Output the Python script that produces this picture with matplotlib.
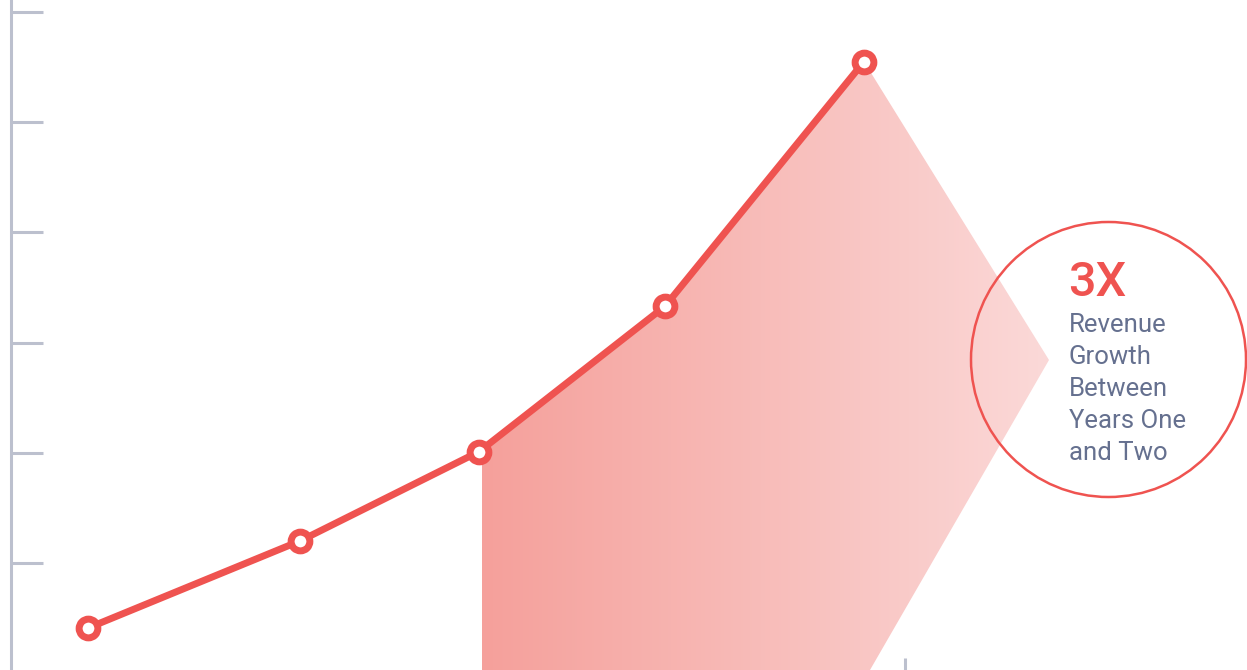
import matplotlib

matplotlib.use("Agg")

import matplotlib.pyplot as plt
import numpy as np
from matplotlib.colors import LinearSegmentedColormap
from matplotlib.patches import Circle, Polygon

# data: x in canvas-ish units, y in tick units (1 tick = 1 step)
x_pos = [88, 300, 479, 665, 864]
values = [0.41, 1.20, 2.01, 3.33, 5.55]
y_ticks = [1, 2, 3, 4, 5, 6]

headline = "3X"
caption = ["Revenue", "Growth", "Between", "Years One", "and Two"]

RED = "#EF5350"
GREY = "#BCC0CE"
TEXT = "#65708F"

W, H = 1247, 670
fig = plt.figure(figsize=(W / 100, H / 100), dpi=100, facecolor="white")
ax = fig.add_axes([0, 0, 1, 1])

# y pixel = 563 - (v - 1) * 110.2  ->  limits for 0..670 px
step = 110.2
y_bot = 1 - (670 - 563) / step
y_top = 1 + 563 / step
ax.set_xlim(0, W)
ax.set_ylim(y_bot, y_top)


def px_to_v(py):
    return 1 + (563 - py) / step


# left axis with inward ticks
for s in ["top", "right", "bottom"]:
    ax.spines[s].set_visible(False)
ax.spines["left"].set_position(("data", 11))
ax.spines["left"].set_color(GREY)
ax.spines["left"].set_linewidth(2.2)
ax.set_yticks(y_ticks)
ax.set_yticklabels([])
ax.tick_params(axis="y", direction="in", length=23, width=2.2, color=GREY)
ax.set_xticks([])

# small stub tick near the bottom
ax.plot([905, 905], [y_bot, px_to_v(658)], color=GREY, lw=2.2, solid_capstyle="butt")

# gradient wedge from the third point to the peak, then out to a tip
x_fill = 482
y_at = np.interp(x_fill, x_pos, values)
tip = (1049, px_to_v(360))
poly_pts = [(x_fill, y_bot), (x_fill, y_at)]
poly_pts += [(x, v) for x, v in zip(x_pos, values) if x > x_fill]
poly_pts += [tip, (870, y_bot)]
poly = Polygon(poly_pts, closed=True, facecolor="none", edgecolor="none")
ax.add_patch(poly)

cmap = LinearSegmentedColormap.from_list("wedge", ["#F5A09B", "#FBD9D8"])
grad = np.linspace(0, 1, 256).reshape(1, -1)
img = ax.imshow(grad, cmap=cmap, aspect="auto",
                extent=[x_fill, tip[0], y_bot, max(values)], zorder=1)
img.set_clip_path(poly)

# main line
ax.plot(x_pos, values, color=RED, lw=5.0, zorder=3, solid_capstyle="round")
ax.plot(x_pos, values, "o", ms=13.5, mfc="white", mec=RED, mew=5.0, zorder=4)

# callout circle, placed in inches so it stays round
circ = Circle((1108.5 / 100, (H - 359.5) / 100), 137.5 / 100,
              transform=fig.dpi_scale_trans,
              facecolor="none", edgecolor=RED, lw=1.8, zorder=5)
ax.add_patch(circ)

ax.text(1068, px_to_v(296), headline, color=RED, fontsize=35, family="Roboto",
        fontweight="medium", ha="left", va="baseline", zorder=6)
for i, line in enumerate(caption):
    ax.text(1069, px_to_v(332 + 32 * i), line, color=TEXT, fontsize=18.5,
            family="Roboto", ha="left", va="baseline", zorder=6)

fig.savefig("out.png", dpi=100, facecolor="white")
plt.close(fig)
